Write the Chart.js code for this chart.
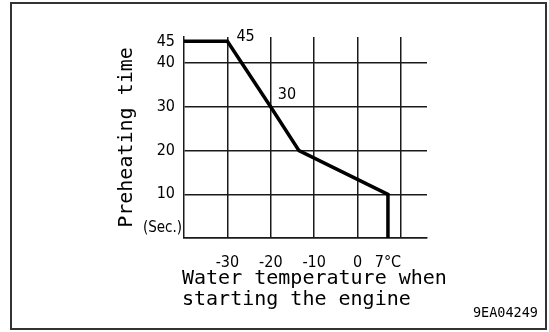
<!DOCTYPE html>
<html>
<head>
<meta charset="utf-8">
<script src="https://cdn.jsdelivr.net/npm/chart.js@4/dist/chart.umd.min.js"></script>
<style>
  html, body { margin: 0; padding: 0; background: #fff; }
  #wrap { width: 549px; height: 332px; }
</style>
</head>
<body>
<div id="wrap"><canvas id="preheatChart"></canvas></div>
<script>
// water temperature (°C) -> preheating time (sec)
const waterTemp = [-40, -30, -20, -13.5, 7, 7];
const preheatTime = [45, 45, 30, 20, 10, 0];

// ticks on each axis
const tempTicks = [-30, -20, -10, 0, 7, 10];
const tempTickLabels = ['-30', '-20', '-10', '0', '7°C', ''];
const timeTicks = [0, 10, 20, 30, 40, 45];
const timeTickLabels = ['', '10', '20', '30', '40', '45'];
const timeUnit = '(Sec.)';
const tempTitle = ['Water temperature when', 'starting the engine'];

// points whose value is written beside the line
const markedPoints = [1, 2];
const drawingNo = '9EA04249';

const narrow = "'Liberation Sans Narrow', 'DejaVu Sans Condensed', sans-serif";
const mono = "'DejaVu Sans Mono', monospace";
const ink = '#1a1a1a';

const points = waterTemp.map((t, i) => ({ x: t, y: preheatTime[i] }));

// frame, unit label, value labels, x title (wider than the plot), drawing number
const extras = {
  id: 'extras',
  afterDraw(chart) {
    const { ctx, scales: { x, y }, chartArea } = chart;
    ctx.save();
    ctx.fillStyle = '#000';
    ctx.textBaseline = 'middle';

    ctx.font = '15px ' + narrow;
    ctx.textAlign = 'right';
    ctx.fillText(timeUnit, chartArea.left - 2, y.getPixelForValue(0) - 10);

    ctx.font = '16px ' + narrow;
    ctx.textAlign = 'left';
    const offs = { 1: [9, -5], 2: [7, -12] };
    markedPoints.forEach(i => {
      const px = x.getPixelForValue(waterTemp[i]);
      const py = y.getPixelForValue(preheatTime[i]);
      ctx.fillText(String(preheatTime[i]), px + offs[i][0], py + offs[i][1]);
    });

    ctx.font = '20px ' + mono;
    tempTitle.forEach((line, i) => {
      ctx.fillText(line, chartArea.left - 2, 279 + i * 21);
    });

    ctx.font = '13.5px ' + mono;
    ctx.textAlign = 'right';
    ctx.fillText(drawingNo, 538, 313);

    ctx.strokeStyle = '#333';
    ctx.lineWidth = 2;
    ctx.strokeRect(11, 3, 535, 326);
    ctx.restore();
  }
};

new Chart(document.getElementById('preheatChart'), {
  type: 'line',
  data: {
    datasets: [{
      data: points,
      borderColor: '#000',
      borderWidth: 3.5,
      pointRadius: 0,
      tension: 0,
      fill: false
    }]
  },
  options: {
    responsive: true,
    maintainAspectRatio: false,
    animation: false,
    layout: { padding: { left: 11, top: 37, right: 122, bottom: 0 } },
    plugins: {
      legend: { display: false },
      tooltip: { enabled: false }
    },
    scales: {
      x: {
        type: 'linear',
        min: -40,
        max: 16,
        afterBuildTicks: s => { s.ticks = tempTicks.map(v => ({ value: v })); },
        afterFit: s => { s.height = 94; },
        grid: {
          drawTicks: false,
          lineWidth: 1.5,
          color: c => (c.tick && c.tick.value === 7 ? 'rgba(0,0,0,0)' : ink)
        },
        border: { color: ink, width: 1.5 },
        ticks: {
          padding: 15,
          color: '#000',
          font: { family: narrow, size: 16 },
          maxRotation: 0,
          autoSkip: false,
          callback: v => tempTickLabels[tempTicks.indexOf(v)]
        }
      },
      y: {
        min: 0,
        max: 46,
        afterBuildTicks: s => { s.ticks = timeTicks.map(v => ({ value: v })); },
        afterFit: s => { s.width = 173; },
        grid: {
          drawTicks: false,
          lineWidth: 1.5,
          color: c => (c.tick && c.tick.value === 45 ? 'rgba(0,0,0,0)' : ink)
        },
        border: { color: ink, width: 1.5 },
        ticks: {
          padding: 9,
          color: '#000',
          font: { family: narrow, size: 16 },
          autoSkip: false,
          callback: v => timeTickLabels[timeTicks.indexOf(v)]
        },
        title: {
          display: true,
          text: 'Preheating time',
          color: '#000',
          font: { family: mono, size: 20, lineHeight: 1.2 },
          padding: { top: 104, bottom: 0 }
        }
      }
    }
  },
  plugins: [extras]
});
</script>
</body>
</html>
